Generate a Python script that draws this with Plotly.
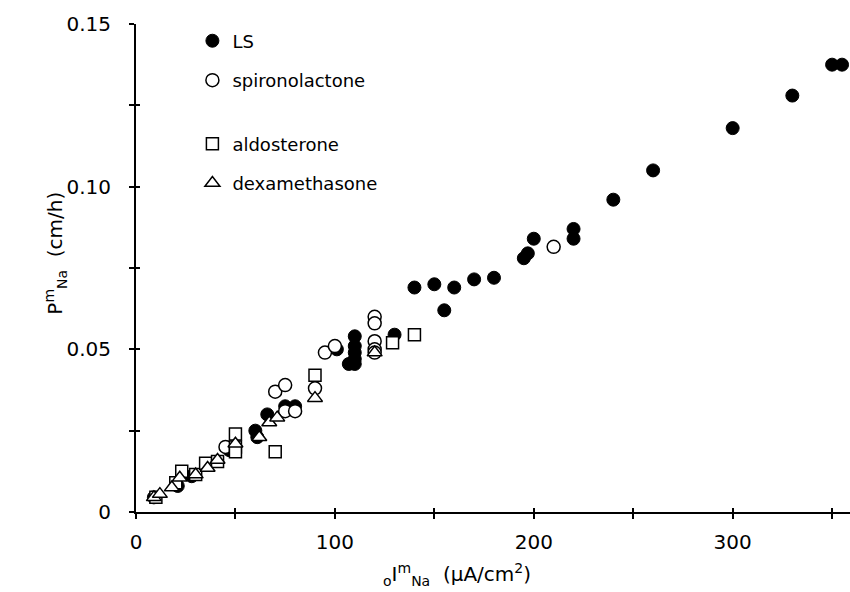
import plotly.graph_objects as go

# ---- data ----
ls_x = [9, 21, 28, 47, 60, 61, 66, 75, 80, 101, 107, 110, 110, 110, 110, 110,
        130, 140, 150, 155, 160, 170, 180, 195, 197, 200, 220, 220, 240, 260,
        300, 330, 350, 355]
ls_y = [0.0045, 0.008, 0.011, 0.019, 0.025, 0.023, 0.030, 0.0325, 0.0325, 0.050,
        0.0455, 0.0455, 0.047, 0.049, 0.051, 0.054, 0.0545, 0.069, 0.070, 0.062,
        0.069, 0.0715, 0.072, 0.078, 0.0795, 0.084, 0.087, 0.084, 0.096, 0.105,
        0.118, 0.128, 0.1375, 0.1375]

spiro_x = [45, 70, 75, 75, 80, 90, 95, 100, 120, 120, 120, 120, 120, 210]
spiro_y = [0.020, 0.037, 0.039, 0.031, 0.031, 0.038, 0.049, 0.051, 0.060, 0.058,
           0.0525, 0.050, 0.049, 0.0815]

aldo_x = [10, 20, 23, 30, 35, 41, 50, 50, 50, 70, 90, 129, 140]
aldo_y = [0.0045, 0.009, 0.0125, 0.0115, 0.015, 0.0155, 0.024, 0.020, 0.0185,
          0.0185, 0.042, 0.052, 0.0545]

dexa_x = [9, 12, 18, 22, 30, 36, 41, 50, 62, 67, 71, 90, 120]
dexa_y = [0.0045, 0.0055, 0.0075, 0.0105, 0.0115, 0.0135, 0.016, 0.021, 0.023,
          0.0275, 0.029, 0.035, 0.049]

x_major = [0, 100, 200, 300]
x_major_text = ["0", "100", "200", "300"]
x_minor = [50, 150, 250, 350]
y_major = [0, 0.05, 0.10, 0.15]
y_major_text = ["0", "0.05", "0.10", "0.15"]
y_minor = [0.025, 0.075, 0.125]

FONT = "DejaVu Sans"
X_RANGE = [0, 359]
Y_RANGE = [0, 0.15]

fig = go.Figure()

fig.add_trace(go.Scatter(
    x=ls_x, y=ls_y, mode="markers", name="LS", legend="legend",
    legendgroup="a",
    marker=dict(symbol="circle", size=13, color="black",
                line=dict(color="black", width=1)),
    cliponaxis=False))
fig.add_trace(go.Scatter(
    x=spiro_x, y=spiro_y, mode="markers", name="spironolactone", legend="legend",
    legendgroup="b",
    marker=dict(symbol="circle", size=13, color="white",
                line=dict(color="black", width=1.5)),
    cliponaxis=False))
fig.add_trace(go.Scatter(
    x=aldo_x, y=aldo_y, mode="markers", name="aldosterone", legend="legend2",
    legendgroup="c",
    marker=dict(symbol="square", size=12, color="white",
                line=dict(color="black", width=1.5)),
    cliponaxis=False))
# drawn on the overlay axes (identical ranges) so that their inward ticks show,
# completing the cross-shaped ticks of the reference
fig.add_trace(go.Scatter(
    x=dexa_x, y=dexa_y, mode="markers", name="dexamethasone", legend="legend2",
    legendgroup="d", xaxis="x2", yaxis="y2",
    marker=dict(symbol="triangle-up", size=13, color="white",
                line=dict(color="black", width=1.5)),
    cliponaxis=False))

axis_common = dict(showgrid=False, zeroline=False, showline=True,
                   linecolor="black", linewidth=2, tickcolor="black",
                   tickwidth=2, ticklen=5, ticks="outside")

fig.update_layout(
    width=850, height=592,
    margin=dict(l=136, r=0, t=24, b=80),
    paper_bgcolor="white", plot_bgcolor="white",
    font=dict(family=FONT, size=18, color="black"),
    xaxis=dict(range=X_RANGE, tickvals=x_major, ticktext=x_major_text,
               minor=dict(tickvals=x_minor, ticks="outside", ticklen=5,
                          tickwidth=2, tickcolor="black"),
               ticklabelstandoff=6,
               tickfont=dict(family=FONT, size=20), **axis_common),
    yaxis=dict(range=Y_RANGE, tickvals=y_major, ticktext=y_major_text,
               minor=dict(tickvals=y_minor, ticks="outside", ticklen=5,
                          tickwidth=2, tickcolor="black"),
               ticklabelstandoff=14,
               tickfont=dict(family=FONT, size=20), **axis_common),
    xaxis2=dict(overlaying="x", anchor="y", side="bottom", range=X_RANGE,
                tickvals=x_major + x_minor, ticks="inside", ticklen=4,
                tickwidth=2, tickcolor="black", showticklabels=False,
                showgrid=False, zeroline=False, showline=False),
    yaxis2=dict(overlaying="y", anchor="x", side="left", range=Y_RANGE,
                tickvals=y_major + y_minor, ticks="inside", ticklen=4,
                tickwidth=2, tickcolor="black", showticklabels=False,
                showgrid=False, zeroline=False, showline=False),
    legend=dict(x=0.079, y=1.003, xanchor="left", yanchor="top",
                traceorder="grouped", tracegroupgap=13,
                font=dict(family=FONT, size=18), bgcolor="rgba(0,0,0,0)"),
    legend2=dict(x=0.079, y=0.792, xanchor="left", yanchor="top",
                 traceorder="grouped", tracegroupgap=13,
                 font=dict(family=FONT, size=18), bgcolor="rgba(0,0,0,0)"),
    showlegend=True,
)

fig.add_annotation(
    text="<sub>o</sub>I<sup>m</sup><sub>Na</sub>  (μA/cm<sup>2</sup>)",
    xref="paper", yref="paper", x=0.45, y=-0.128, xanchor="center",
    yanchor="middle", showarrow=False, font=dict(family=FONT, size=20))
fig.add_annotation(
    text="P<sup>m</sup><sub>Na</sub>  (cm/h)",
    xref="paper", yref="paper", x=-0.113, y=0.53, xanchor="center",
    yanchor="middle", textangle=-90, showarrow=False,
    font=dict(family=FONT, size=20))

fig.write_html("out.html")
